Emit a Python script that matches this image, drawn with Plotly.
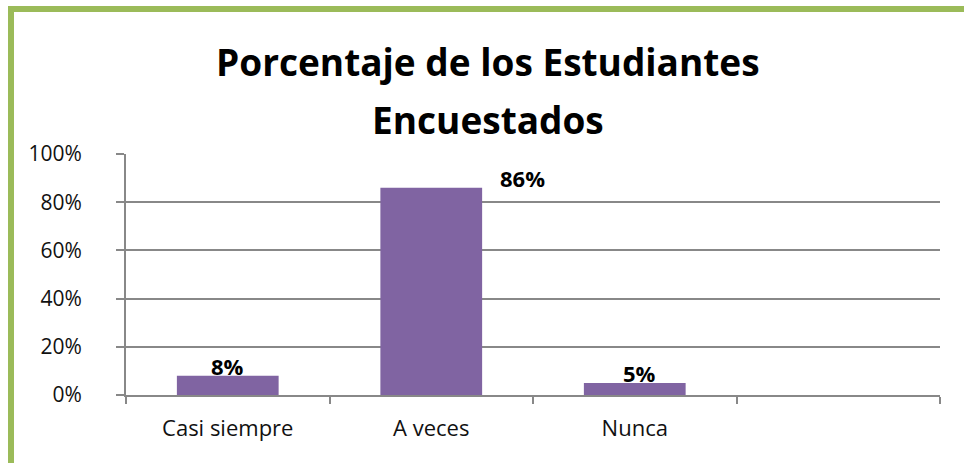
import plotly.graph_objects as go

# datos
categorias = ["Casi siempre", "A veces", "Nunca", " "]
porcentajes = [0.08, 0.86, 0.05, None]
etiquetas = ["8%", "86%", "5%"]
desplaz_x = [0, 91, 5]  # etiquetas movidas a mano en el original

W, H = 964, 463
ml, mr, mt, mb = 126, 24, 154, 68
pw, ph = W - ml - mr, H - mt - mb

morado = "#8064A2"
gris = "#888888"
verde = "#9BBB59"
fuente = "Open Sans"


def px_x(x):
    return (x - ml) / pw


def px_y(y):
    return (H - mb - y) / ph


fig = go.Figure(
    go.Bar(
        x=categorias,
        y=porcentajes,
        marker=dict(color=morado, line=dict(width=0)),
        hoverinfo="skip",
    )
)

for cat, val, txt, dx in zip(categorias, porcentajes, etiquetas, desplaz_x):
    fig.add_annotation(
        x=cat,
        y=val,
        text="<b>" + txt + "</b>",
        showarrow=False,
        xshift=dx,
        yanchor="bottom",
        yshift=-7,
        font=dict(family=fuente, size=22, color="black"),
    )

# titulo en dos lineas
fig.add_annotation(
    xref="paper", yref="paper", x=px_x(488), y=px_y(61),
    text="<b>Porcentaje de los Estudiantes</b>", showarrow=False,
    yanchor="middle", font=dict(family=fuente, size=37, color="black"),
)
fig.add_annotation(
    xref="paper", yref="paper", x=px_x(488), y=px_y(119),
    text="<b>Encuestados</b>", showarrow=False,
    yanchor="middle", font=dict(family=fuente, size=37, color="black"),
)

# borde verde
fig.add_shape(
    type="rect", xref="paper", yref="paper",
    x0=px_x(11), y0=px_y(H + 40), x1=px_x(W + 40), y1=px_y(9),
    line=dict(color=verde, width=6), layer="above",
)

fig.update_layout(
    width=W,
    height=H,
    margin=dict(l=ml, r=mr, t=mt, b=mb),
    plot_bgcolor="white",
    paper_bgcolor="white",
    showlegend=False,
    bargap=0.5,
    font=dict(family=fuente, size=22, color="black"),
)
fig.update_xaxes(
    type="category",
    categoryorder="array",
    categoryarray=categorias,
    range=[-0.5, 3.5],
    showline=True,
    linecolor=gris,
    linewidth=2,
    ticks="outside",
    tickson="boundaries",
    ticklen=7,
    tickcolor=gris,
    tickwidth=2,
    showgrid=False,
    ticklabelstandoff=13,
    tickfont=dict(family=fuente, size=22, color="#111111"),
)
fig.update_yaxes(
    range=[0, 1],
    dtick=0.2,
    tickformat=".0%",
    showline=True,
    linecolor=gris,
    linewidth=2,
    ticks="outside",
    ticklen=8,
    tickcolor=gris,
    tickwidth=2,
    showgrid=True,
    gridcolor=gris,
    gridwidth=2,
    zeroline=False,
    ticklabelstandoff=30,
    tickfont=dict(family=fuente, size=21, color="#111111"),
)

fig.write_html(
    "out.html",
    config={"displayModeBar": False},
    post_script="document.body.style.margin='0';",
)
